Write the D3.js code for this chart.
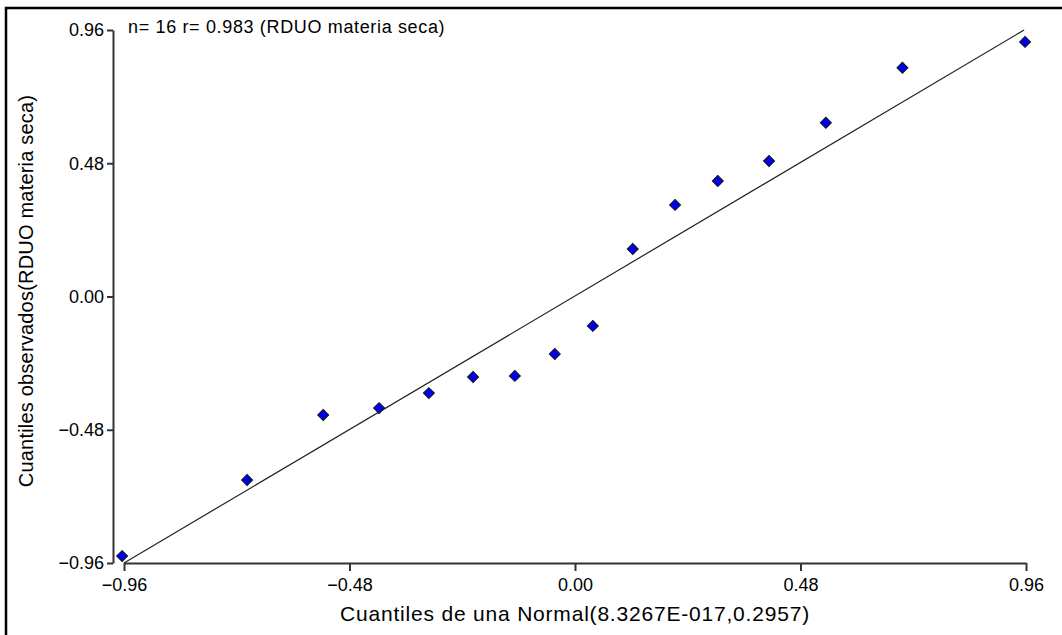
<!DOCTYPE html>
<html><head><meta charset="utf-8">
<script src="https://cdn.jsdelivr.net/npm/d3@7/dist/d3.min.js"></script>
<style>body{margin:0;background:#fff}svg{display:block}text{font-family:"Liberation Sans",Arial,sans-serif;fill:#000}</style>
</head><body><svg id="c" width="1062" height="635"></svg>
<script>
const xValues = [-0.964, -0.698, -0.536, -0.417, -0.311, -0.217, -0.128, -0.043, 0.038, 0.123, 0.213, 0.304, 0.413, 0.534, 0.697, 0.958];
const yValues = [-0.935, -0.661, -0.427, -0.402, -0.348, -0.290, -0.286, -0.207, -0.106, 0.171, 0.330, 0.416, 0.488, 0.626, 0.824, 0.917];
const lineX = [-0.96, 0.956];
const lineY = [-0.96, 0.96];
const tickValues = [-0.96, -0.48, 0.00, 0.48, 0.96];
const annotation = "n= 16 r= 0.983 (RDUO materia seca)";
const xTitle = "Cuantiles de una Normal(8.3267E-017,0.2957)";
const yTitle = "Cuantiles observados(RDUO materia seca)";

const svg = d3.select("#c");
const x = d3.scaleLinear().domain([-0.96, 0.96]).range([124, 1026]);
const y = d3.scaleLinear().domain([-0.96, 0.96]).range([563, 30]);

// frame
svg.append("path").attr("d","M6,635 V8 H1062").attr("fill","none").attr("stroke","#000").attr("stroke-width",2.5);

const fs = 18;
const xAxis = svg.append("g").attr("transform","translate(0,563)")
  .call(d3.axisBottom(x).tickValues(tickValues).tickFormat(d3.format(".2f")).tickSize(8).tickSizeOuter(0));
const yAxis = svg.append("g").attr("transform","translate(113,0)")
  .call(d3.axisLeft(y).tickValues(tickValues).tickFormat(d3.format(".2f")).tickSize(6).tickSizeOuter(0));
[xAxis,yAxis].forEach(g=>{
  g.select(".domain").attr("stroke","#333").attr("stroke-width",2);
  g.selectAll(".tick line").attr("stroke","#333").attr("stroke-width",2);
  g.selectAll(".tick text").attr("font-size",fs).attr("font-family","Liberation Sans, Arial, sans-serif").attr("fill","#000");
});
xAxis.selectAll(".tick text").attr("dy","0.71em").attr("y",15);
yAxis.selectAll(".tick text").attr("x",-9);

// reference line
svg.append("line").attr("x1",x(lineX[0])).attr("y1",y(lineY[0])).attr("x2",x(lineX[1])).attr("y2",y(lineY[1]))
  .attr("stroke","#222").attr("stroke-width",1.2);

// points
const pts = xValues.map((v,i)=>[v,yValues[i]]);
svg.selectAll("path.pt").data(pts).enter().append("path").attr("class","pt")
  .attr("transform",d=>`translate(${x(d[0])},${y(d[1])}) rotate(45)`)
  .attr("d", d3.symbol(d3.symbolSquare, 60)())
  .attr("fill","#0000f0").attr("stroke","#111").attr("stroke-width",1);

svg.append("text").attr("x",128).attr("y",33).attr("font-size",18).attr("letter-spacing",0.65).text(annotation);
svg.append("text").attr("x",575).attr("y",621).attr("text-anchor","middle").attr("font-size",21).attr("letter-spacing",0.8).text(xTitle);
svg.append("text").attr("transform","translate(33,291) rotate(-90)").attr("text-anchor","middle").attr("font-size",20).attr("letter-spacing",0.2).text(yTitle);
</script></body></html>
